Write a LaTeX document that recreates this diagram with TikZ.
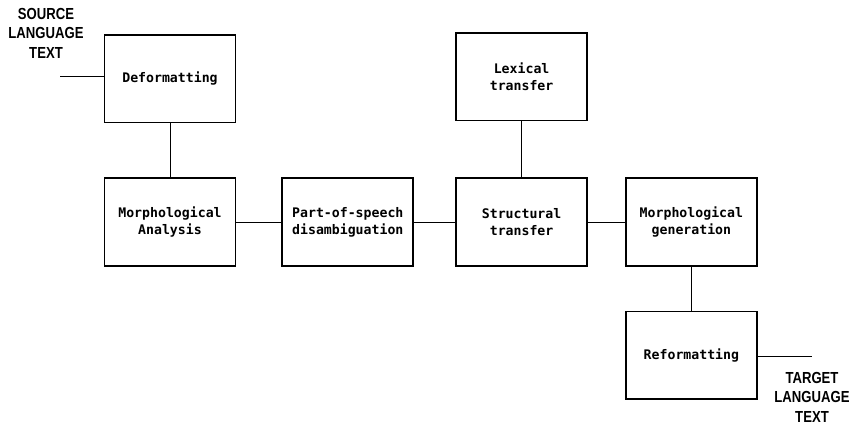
\documentclass[tikz,border=0pt]{standalone}
\usepackage{fontspec}
\setmonofont{DejaVu Sans Mono}
\newfontfamily\labelfont[FakeStretch=0.82]{Liberation Sans}
\usetikzlibrary{positioning}

\begin{document}
\begin{tikzpicture}[x=1pt,y=-1pt]
            \tikzstyle{stage} = [rectangle, draw, line width=1.8pt, minimum width=131pt, minimum height=87.5pt, align=center, font=\ttfamily\bfseries\fontsize{13.2}{17}\selectfont]
            \tikzstyle{link} = [line width=1pt]
            \tikzstyle{io} = [align=center, inner sep=1pt, font=\labelfont\bfseries\fontsize{16}{19.5}\selectfont]

            \useasboundingbox (0,0) rectangle (852,426);

            \node [stage] (morphan) at (170,222) {Morphological\\Analysis};
            \node [stage, right=45pt of morphan] (tagger) {Part-of-speech\\disambiguation};
            \node [stage, right=41pt of tagger] (structural) {Structural\\transfer};
            \node [stage, right=37pt of structural] (morphgen) {Morphological\\generation};
            \node [stage, above=54pt of morphan] (deformat) {Deformatting};
            \node [stage, above=56pt of structural] (lexical) {Lexical\\transfer};
            \node [stage, below=44pt of morphgen] (reformat) {Reformatting};

            \node [io] (source) at (46,33) {SOURCE\\LANGUAGE\\TEXT};
            \node [io] (target) at (812,397) {TARGET\\LANGUAGE\\TEXT};
            \coordinate (srcend) at (60,76);
            \coordinate (tgtend) at (812,356);

            \draw [link] (srcend) -- (srcend -| deformat.west);
            \draw [link] (deformat) -- (morphan);
            \draw [link] (morphan) -- (tagger);
            \draw [link] (tagger) -- (structural);
            \draw [link] (lexical) -- (structural);
            \draw [link] (structural) -- (morphgen);
            \draw [link] (morphgen) -- (reformat);
            \draw [link] (reformat.east |- tgtend) -- (tgtend);
        \end{tikzpicture}
\end{document}
